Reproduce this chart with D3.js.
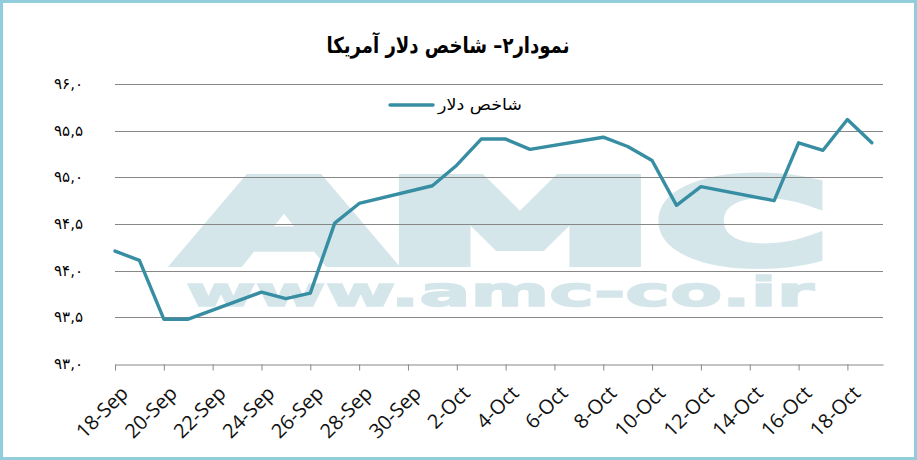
<!DOCTYPE html>
<html>
<head>
<meta charset="utf-8">
<script src="https://cdn.jsdelivr.net/npm/d3@7"></script>
<style>
  html, body { margin: 0; padding: 0; background: #fff; }
  svg { display: block; }
</style>
</head>
<body>
<div id="chart"></div>
<script>
// dollar index, daily closes (weekends missing)
const dates = ["2018-09-18", "2018-09-19", "2018-09-20", "2018-09-21", "2018-09-24", "2018-09-25",
  "2018-09-26", "2018-09-27", "2018-09-28", "2018-10-01", "2018-10-02", "2018-10-03", "2018-10-04",
  "2018-10-05", "2018-10-08", "2018-10-09", "2018-10-10", "2018-10-11", "2018-10-12", "2018-10-15",
  "2018-10-16", "2018-10-17", "2018-10-18", "2018-10-19"];
const values = [94.21, 94.11, 93.48, 93.48, 93.77, 93.70,
  93.76, 94.51, 94.72, 94.91, 95.13, 95.41, 95.41,
  95.30, 95.43, 95.33, 95.18, 94.70, 94.90, 94.75,
  95.37, 95.29, 95.62, 95.37];
const xTickLabels = ["18-Sep", "20-Sep", "22-Sep", "24-Sep", "26-Sep", "28-Sep", "30-Sep", "2-Oct",
  "4-Oct", "6-Oct", "8-Oct", "10-Oct", "12-Oct", "14-Oct", "16-Oct", "18-Oct"];
const yTicks = [93, 93.5, 94, 94.5, 95, 95.5, 96];

const title = "نمودار۲– شاخص دلار آمریکا";
const seriesName = "شاخص دلار";

const W = 917, H = 460;
const parseDay = d3.timeParse("%Y-%m-%d");
const parseTick = d3.timeParse("%d-%b-%Y");
const data = dates.map((d, i) => ({ date: parseDay(d), value: values[i] }));

const svg = d3.select("#chart").append("svg")
  .attr("width", W)
  .attr("height", H);

// frame
svg.append("rect")
  .attr("x", 1.5).attr("y", 1.5)
  .attr("width", W - 3).attr("height", H - 3)
  .attr("fill", "#fff")
  .attr("stroke", "#92cddc")
  .attr("stroke-width", 3);

const x = d3.scaleTime()
  .domain([parseDay("2018-09-18"), new Date(2018, 9, 19, 11)])
  .range([115, 883]);
const y = d3.scaleLinear()
  .domain([93, 96])
  .range([364, 84]);

// watermark (logo behind the plot)
const wmColor = "#d5e6eb";
const wm = svg.append("g")
  .attr("fill", wmColor)
  .attr("stroke", wmColor)
  .attr("stroke-linejoin", "miter")
  .attr("font-family", "DejaVu Sans")
  .attr("font-weight", "bold");
const logo = [{ ch: "A", x: 183, w: 202 }, { ch: "M", x: 386, w: 268 }, { ch: "C", x: 657, w: 170 }];
wm.selectAll("text.logo")
  .data(logo)
  .enter().append("text")
  .attr("class", "logo")
  .attr("x", d => d.x).attr("y", 262)
  .attr("font-size", 114)
  .attr("stroke-width", 10)
  .attr("textLength", d => d.w)
  .attr("lengthAdjust", "spacingAndGlyphs")
  .text(d => d.ch);
wm.append("text")
  .attr("x", 186).attr("y", 306)
  .attr("font-size", 40)
  .attr("stroke-width", 1.5)
  .attr("textLength", 628)
  .attr("lengthAdjust", "spacingAndGlyphs")
  .text("www.amc-co.ir");

// title
svg.append("text")
  .attr("x", 448).attr("y", 53)
  .attr("text-anchor", "middle")
  .attr("font-family", "DejaVu Sans")
  .attr("font-weight", "bold")
  .attr("font-size", 22)
  .attr("direction", "rtl")
  .attr("textLength", 243)
  .attr("lengthAdjust", "spacingAndGlyphs")
  .text(title);

// gridlines
svg.append("g")
  .selectAll("line")
  .data(yTicks.slice(1))
  .enter().append("line")
  .attr("x1", 115).attr("x2", 883)
  .attr("y1", d => Math.round(y(d)) + 0.5)
  .attr("y2", d => Math.round(y(d)) + 0.5)
  .attr("stroke", "#878787")
  .attr("stroke-width", 1);

// y labels in persian digits
const faDigits = "۰۱۲۳۴۵۶۷۸۹";
const fmtY = v => d3.format(".1f")(v).replace(".", ",").replace(/\d/g, c => faDigits[+c]);
svg.append("g")
  .selectAll("text")
  .data(yTicks)
  .enter().append("text")
  .attr("x", 83)
  .attr("y", d => y(d) + 5)
  .attr("text-anchor", "end")
  .attr("font-family", "DejaVu Sans")
  .attr("font-size", 15)
  .attr("fill", "#000")
  .text(fmtY);

// x axis
const xAxis = d3.axisBottom(x)
  .tickValues(xTickLabels.map(t => parseTick(t + "-2018")))
  .tickSize(6)
  .tickSizeOuter(0)
  .tickFormat((d, i) => xTickLabels[i]);

const gx = svg.append("g")
  .attr("transform", `translate(0,${Math.round(y(93)) + 0.5})`)
  .call(xAxis);
gx.select(".domain").attr("stroke", "#878787");
gx.selectAll(".tick line").attr("stroke", "#878787");
gx.selectAll(".tick text")
  .attr("font-family", "Open Sans")
  .attr("font-size", 20)
  .attr("fill", "#111")
  .attr("text-anchor", "end")
  .attr("dy", null)
  .attr("y", 0)
  .attr("transform", "translate(14,30) rotate(-45)");

// series line
const line = d3.line()
  .x(d => x(d.date))
  .y(d => y(d.value));

svg.append("path")
  .datum(data)
  .attr("fill", "none")
  .attr("stroke", "#378ea3")
  .attr("stroke-width", 3.4)
  .attr("stroke-linejoin", "round")
  .attr("stroke-linecap", "round")
  .attr("d", line);

// legend
const lg = svg.append("g");
lg.append("line")
  .attr("x1", 390).attr("x2", 433)
  .attr("y1", 105).attr("y2", 105)
  .attr("stroke", "#378ea3")
  .attr("stroke-width", 3.4)
  .attr("stroke-linecap", "round");
lg.append("text")
  .attr("x", 438).attr("y", 110)
  .attr("font-family", "DejaVu Sans")
  .attr("font-size", 16)
  .attr("text-anchor", "start")
  .attr("textLength", 84)
  .attr("lengthAdjust", "spacingAndGlyphs")
  .text(seriesName);
</script>
</body>
</html>
